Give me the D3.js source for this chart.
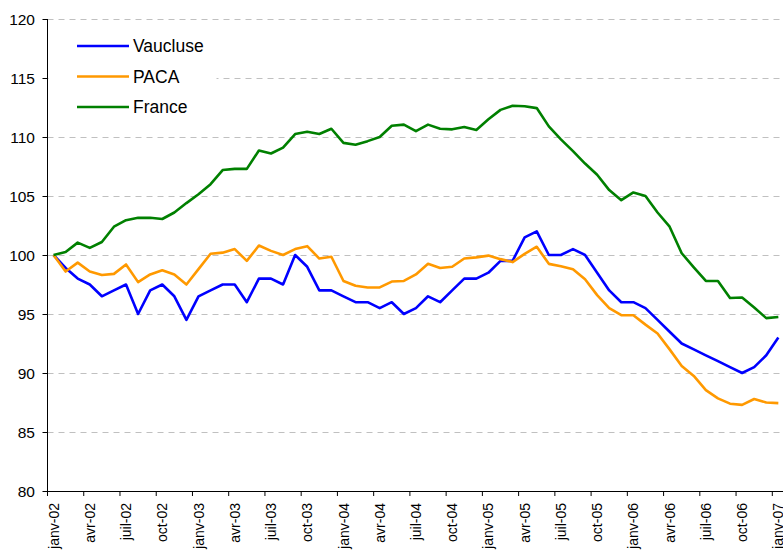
<!DOCTYPE html>
<html>
<head>
<meta charset="utf-8">
<script src="https://cdn.jsdelivr.net/npm/d3@7"></script>
<style>
  body { margin: 0; background: #fff; }
  text { font-family: Arial, "Liberation Sans", sans-serif; fill: #000; }
</style>
</head>
<body>
<div id="chart"></div>
<script>
var monthNames = ['janv', 'févr', 'mars', 'avr', 'mai', 'juin', 'juil', 'août', 'sept', 'oct', 'nov', 'déc']
var years = ['02', '03', '04', '05', '06', '07']

var vaucluse = [100, 98.9, 98, 97.5, 96.5, 97, 97.5, 95, 97, 97.5, 96.5, 94.5,
  96.5, 97, 97.5, 97.5, 96, 98, 98, 97.5, 100, 99, 97, 97,
  96.5, 96, 96, 95.5, 96, 95, 95.5, 96.5, 96, 97, 98, 98,
  98.5, 99.5, 99.5, 101.5, 102, 100, 100, 100.5, 100, 98.5, 97, 96,
  96, 95.5, 94.5, 93.5, 92.5, 92, 91.5, 91, 90.5, 90, 90.5, 91.5, 93]

var paca = [100, 98.6, 99.35, 98.6, 98.3, 98.4, 99.2, 97.7, 98.35, 98.7, 98.35, 97.5,
  98.8, 100.1, 100.2, 100.5, 99.5, 100.8, 100.35, 100, 100.5, 100.75, 99.7, 99.85,
  97.8, 97.4, 97.25, 97.25, 97.75, 97.8, 98.35, 99.25, 98.9, 99, 99.7, 99.8,
  99.95, 99.65, 99.4, 100.1, 100.7, 99.25, 99.05, 98.8, 97.95, 96.6, 95.5, 94.9,
  94.9, 94.1, 93.35, 92, 90.6, 89.75, 88.55, 87.85, 87.4, 87.3, 87.8, 87.5, 87.45]

var france = [100, 100.25, 101.05, 100.6, 101.1, 102.4, 102.95, 103.15, 103.15, 103.05, 103.6, 104.4,
  105.15, 106, 107.2, 107.3, 107.3, 108.85, 108.6, 109.1, 110.25, 110.45, 110.25, 110.7,
  109.5, 109.35, 109.65, 110, 110.95, 111.05, 110.5, 111.05, 110.7, 110.65, 110.85, 110.6,
  111.5, 112.3, 112.65, 112.6, 112.45, 110.9, 109.8, 108.8, 107.75, 106.8, 105.5, 104.65,
  105.3, 105, 103.6, 102.4, 100.15, 98.95, 97.8, 97.8, 96.35, 96.4, 95.55, 94.65, 94.75]

var yTicks = [80, 85, 90, 95, 100, 105, 110, 115, 120]

// one label per month, janv-02 .. janv-07
var months = []
years.forEach(function (y, yi) {
  monthNames.forEach(function (m) {
    if (yi < years.length - 1 || m === 'janv') months.push(m + '-' + y)
  })
})

var series = [
  { name: 'Vaucluse', values: vaucluse, color: '#0000ff' },
  { name: 'PACA', values: paca, color: '#ff9900' },
  { name: 'France', values: france, color: '#008000' }
]

var width = 783
var height = 554
var margin = { top: 19, right: 0, bottom: 63, left: 47.5 }
var bottomY = height - margin.bottom

var svg = d3.select('#chart').append('svg')
  .attr('width', width)
  .attr('height', height)

var x = d3.scaleBand()
  .domain(months)
  .range([margin.left, margin.left + months.length * 12.08])

var y = d3.scaleLinear()
  .domain([80, 120])
  .range([bottomY, margin.top])

// Gridlines
svg.append('g')
  .selectAll('line')
  .data(yTicks.slice(1))
  .enter().append('line')
  .attr('x1', margin.left)
  .attr('x2', width)
  .attr('y1', function (d) { return Math.round(y(d)) + 0.5 })
  .attr('y2', function (d) { return Math.round(y(d)) + 0.5 })
  .attr('stroke', '#c0c0c0')
  .attr('stroke-width', 1)
  .attr('stroke-dasharray', '6,5')

// Y axis
var gy = svg.append('g')
gy.append('line')
  .attr('x1', margin.left)
  .attr('x2', margin.left)
  .attr('y1', margin.top)
  .attr('y2', bottomY)
  .attr('stroke', '#000')
gy.selectAll('line.tick')
  .data(yTicks)
  .enter().append('line')
  .attr('class', 'tick')
  .attr('x1', margin.left - 5)
  .attr('x2', margin.left)
  .attr('y1', function (d) { return Math.round(y(d)) + 0.5 })
  .attr('y2', function (d) { return Math.round(y(d)) + 0.5 })
  .attr('stroke', '#000')
gy.selectAll('text')
  .data(yTicks)
  .enter().append('text')
  .attr('x', 35)
  .attr('y', function (d) { return y(d) })
  .attr('dy', '0.36em')
  .attr('text-anchor', 'end')
  .style('font-size', '15.5px')
  .text(function (d) { return d })

// X axis
var gx = svg.append('g')
gx.append('line')
  .attr('x1', margin.left)
  .attr('x2', width)
  .attr('y1', bottomY + 0.5)
  .attr('y2', bottomY + 0.5)
  .attr('stroke', '#000')

var labelled = months.filter(function (d, i) { return i % 3 === 0 })

gx.selectAll('line.tick')
  .data(labelled)
  .enter().append('line')
  .attr('class', 'tick')
  .attr('x1', function (d) { return x(d) })
  .attr('x2', function (d) { return x(d) })
  .attr('y1', bottomY)
  .attr('y2', bottomY + 5)
  .attr('stroke', '#000')

gx.selectAll('text')
  .data(labelled)
  .enter().append('text')
  .attr('transform', function (d) {
    return 'translate(' + (x(d) + x.bandwidth() / 2) + ',' + (bottomY + 12) + ') rotate(-90)'
  })
  .attr('dy', '0.36em')
  .attr('text-anchor', 'end')
  .style('font-size', '14px')
  .text(function (d) { return d })

// Lines
var line = d3.line()
  .x(function (d, i) { return x(months[i]) + x.bandwidth() / 2 })
  .y(function (d) { return y(d) })

svg.append('g')
  .selectAll('path')
  .data(series)
  .enter().append('path')
  .attr('d', function (d) { return line(d.values) })
  .attr('fill', 'none')
  .attr('stroke', function (d) { return d.color })
  .attr('stroke-width', 2.6)
  .attr('stroke-linejoin', 'round')

// Legend, white box hides the gridline behind it
svg.append('rect')
  .attr('x', margin.left + 1)
  .attr('y', 26)
  .attr('width', 168)
  .attr('height', 98)
  .attr('fill', '#fff')

var legend = svg.append('g')
  .selectAll('g')
  .data(series)
  .enter().append('g')
  .attr('transform', function (d, i) { return 'translate(77,' + (46 + i * 30.5) + ')' })

legend.append('line')
  .attr('x1', 0)
  .attr('x2', 52)
  .attr('stroke', function (d) { return d.color })
  .attr('stroke-width', 2.6)

legend.append('text')
  .attr('x', 56)
  .attr('dy', '0.36em')
  .style('font-size', '17.5px')
  .text(function (d) { return d.name })
</script>
</body>
</html>
